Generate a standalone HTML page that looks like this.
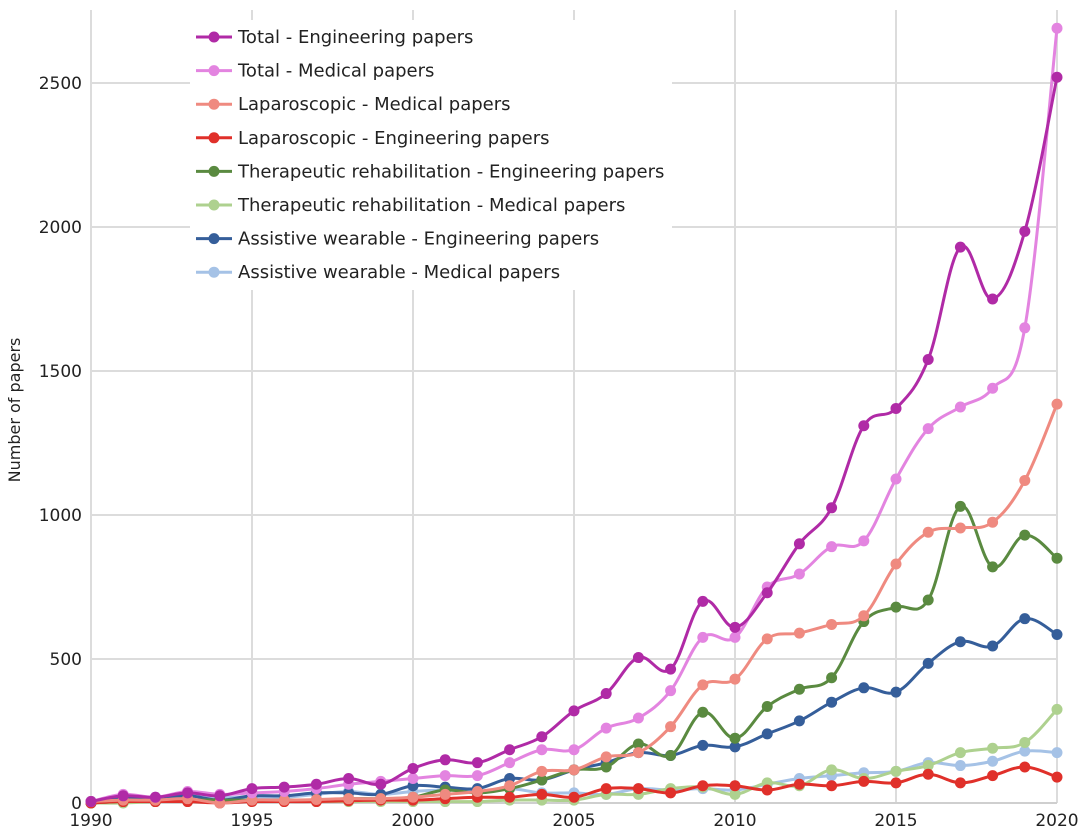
<!DOCTYPE html>
<html><head><meta charset="utf-8"><style>
html,body{margin:0;padding:0;background:#fff;}
svg{display:block;font-family:"DejaVu Sans","Liberation Sans",sans-serif;}
</style></head><body>
<svg id="chart" width="1080" height="837" xmlns="http://www.w3.org/2000/svg">
<g id="grid"></g>
<g id="series"></g>
<g id="legend"></g>
<g id="axes"></g>
<text x="0" y="0" transform="translate(20,410) rotate(-90)" text-anchor="middle" font-size="16" fill="#222">Number of papers</text>
</svg>
<script>
const years = [];
for (let y = 1990; y <= 2020; y++) years.push(y);
const yTicks = [0, 500, 1000, 1500, 2000, 2500];
const xTicks = [1990, 1995, 2000, 2005, 2010, 2015, 2020];
const seriesNames = ["Total - Engineering papers","Total - Medical papers","Laparoscopic - Medical papers","Laparoscopic - Engineering papers","Therapeutic rehabilitation - Engineering papers","Therapeutic rehabilitation - Medical papers","Assistive wearable - Engineering papers","Assistive wearable - Medical papers"];
const seriesColors = ["#b02aa6","#e384e0","#ef8a80","#e0302a","#5a8a40","#aed18f","#355e9a","#a5c2e6"];
const totalEng = [5,25,20,35,25,50,55,65,85,65,120,150,140,185,230,320,380,505,465,700,610,730,900,1025,1310,1370,1540,1930,1750,1985,2520];
const totalMed = [5,30,20,40,30,35,40,50,65,75,85,95,95,140,185,185,260,295,390,575,575,750,795,890,910,1125,1300,1375,1440,1650,2690];
const lapMed = [5,10,10,15,0,10,10,12,15,15,20,30,40,60,110,115,160,175,265,410,430,570,590,620,650,830,940,955,975,1120,1385];
const lapEng = [0,5,5,5,0,5,5,5,8,10,10,15,20,20,30,20,50,50,35,60,60,45,65,60,75,70,100,70,95,125,90];
const therEng = [0,5,5,10,10,10,10,10,15,15,20,45,35,50,80,115,125,205,165,315,225,335,395,435,630,680,705,1030,820,930,850];
const therMed = [0,0,5,5,5,5,5,5,5,5,5,5,5,10,10,10,30,30,50,55,30,70,60,115,85,110,130,175,190,210,325];
const awEng = [5,15,15,25,10,25,25,35,35,30,60,55,50,85,80,115,140,175,165,200,195,240,285,350,400,385,485,560,545,640,585];
const awMed = [5,20,20,25,20,20,20,30,40,30,40,45,40,50,35,35,30,50,45,50,45,65,85,95,105,110,140,130,145,180,175];
const allSeries = [totalEng,totalMed,lapMed,lapEng,therEng,therMed,awEng,awMed];

const NS = "http://www.w3.org/2000/svg";
const X0 = 91, X1 = 1057, Y0 = 803, YTOP = 83;
function xs(yr){ return X0 + (yr - 1990) * (X1 - X0) / 30; }
function ys(v){ return Y0 - v * (Y0 - YTOP) / 2500; }
function mk(tag, attrs, parent){ const e = document.createElementNS(NS, tag); for (const k in attrs) e.setAttribute(k, attrs[k]); parent.appendChild(e); return e; }

const grid = document.getElementById('grid');
const axes = document.getElementById('axes');
yTicks.forEach(t => {
  const l = mk('line', {x1:X0, x2:X1, y1:ys(t), y2:ys(t), stroke:'#dcdcdc', 'stroke-width':2}, grid);
  
  
  const tx = mk('text', {x:82, y:ys(t)+6, 'text-anchor':'end', 'font-size':17, fill:'#222'}, axes);
  tx.textContent = t;
  
  
});
xTicks.forEach(t => {
  const l = mk('line', {x1:xs(t), x2:xs(t), y1:10, y2:Y0, stroke:'#dcdcdc', 'stroke-width':2}, grid);
  
  
  const tx = mk('text', {x:xs(t), y:826, 'text-anchor':'middle', 'font-size':17, fill:'#222'}, axes);
  tx.textContent = t;
  
  
});
const ax = mk('line', {x1:X0, x2:X1, y1:Y0, y2:Y0, stroke:'#cfcfcf', 'stroke-width':2}, grid);



function smoothPath(pts){
  let d = `M${pts[0][0]},${pts[0][1]}`;
  for (let i = 0; i < pts.length - 1; i++){
    const p0 = pts[Math.max(0,i-1)], p1 = pts[i], p2 = pts[i+1], p3 = pts[Math.min(pts.length-1,i+2)];
    const t = 0.18;
    const c1x = p1[0] + (p2[0]-p0[0])*t, c1y = p1[1] + (p2[1]-p0[1])*t;
    const c2x = p2[0] - (p3[0]-p1[0])*t, c2y = p2[1] - (p3[1]-p1[1])*t;
    d += ` C${c1x},${c1y} ${c2x},${c2y} ${p2[0]},${p2[1]}`;
  }
  return d;
}
const sg = document.getElementById('series');
for (let s = allSeries.length - 1; s >= 0; s--){
  const g = mk('g', {}, sg);
  
  
  const pts = years.map((yr,i) => [xs(yr), ys(allSeries[s][i])]);
  const p = mk('path', {d:smoothPath(pts), fill:'none', stroke:seriesColors[s], 'stroke-width':3}, g);
  
  
  pts.forEach(pt => {
    const c = mk('circle', {cx:pt[0], cy:pt[1], r:5.5, fill:seriesColors[s]}, g);
    
    
  });
}
const lg = document.getElementById('legend');
const bg = mk('rect', {x:190, y:20, width:482, height:270, fill:'#fff'}, lg);


seriesNames.forEach((n, i) => {
  const y = 37 + i * 33.6;
  const g = mk('g', {}, lg);
  
  
  mk('line', {x1:196, x2:232, y1:y, y2:y, stroke:seriesColors[i], 'stroke-width':3}, g);
  mk('circle', {cx:214, cy:y, r:5.5, fill:seriesColors[i]}, g);
  const t = mk('text', {x:238, y:y+6, 'font-size':18, fill:'#222'}, g);
  t.textContent = n;
});
</script>
</body></html>
